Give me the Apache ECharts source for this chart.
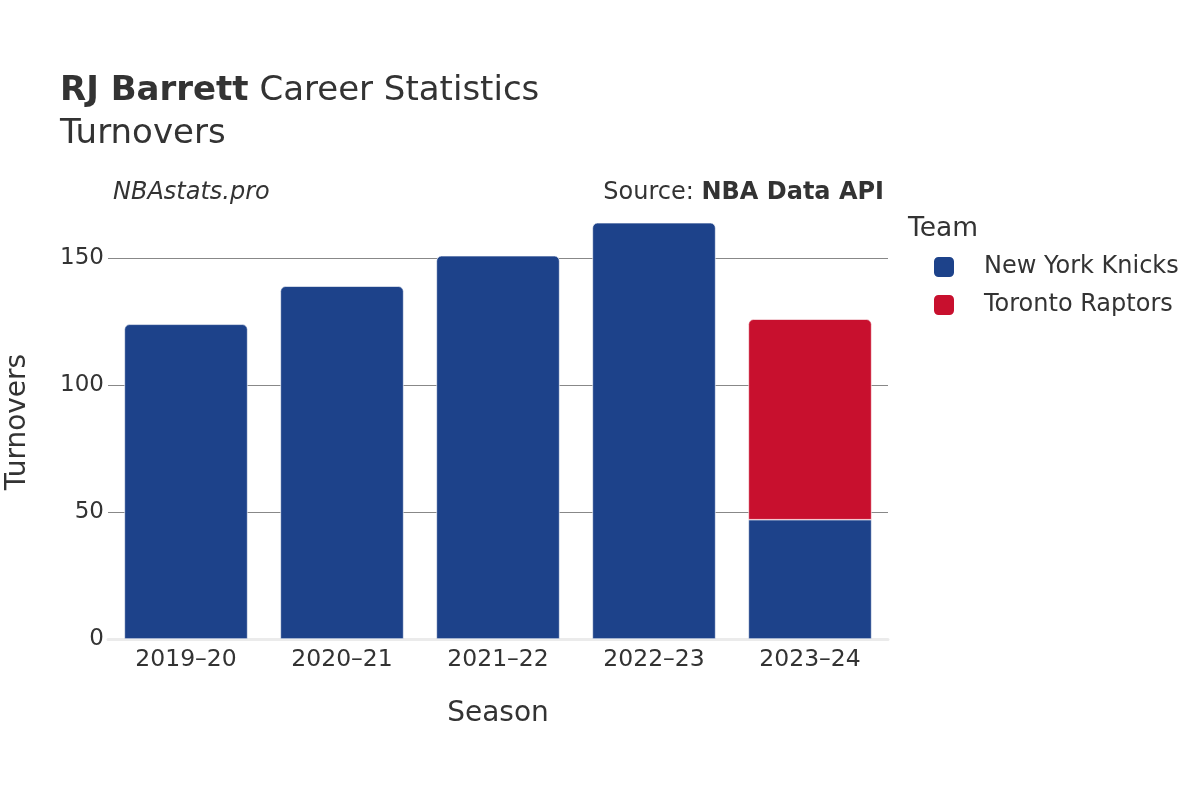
<!DOCTYPE html>
<html>
<head>
<meta charset="utf-8">
<script src="https://cdn.jsdelivr.net/npm/echarts@6/dist/echarts.min.js"></script>
<style>html,body{margin:0;padding:0;background:#fff}#c{width:1200px;height:800px}</style>
</head>
<body>
<div id="c"></div>
<script>
const seasons = ['2019–20', '2020–21', '2021–22', '2022–23', '2023–24'];
const knicks = [124, 139, 151, 164, 47];
const raptors = [null, null, null, null, 79];
const yTicks = [0, 50, 100, 150];
const teamNames = ['New York Knicks', 'Toronto Raptors'];
const teamColors = ['#1D428A', '#C8102E'];

const FONT = 'DejaVu Sans';
const chart = echarts.init(document.getElementById('c'));

const knicksData = knicks.map((v, i) => ({
  value: v,
  itemStyle: { borderRadius: raptors[i] == null ? [5, 5, 0, 0] : 0 }
}));
const raptorsData = raptors.map(v => ({ value: v, itemStyle: { borderRadius: [5, 5, 0, 0] } }));

chart.setOption({
  animation: false,
  textStyle: { fontFamily: FONT },
  title: [
    { text: '{b|RJ Barrett} Career Statistics', left: 60, top: 74, padding: 0,
      textStyle: { fontFamily: FONT, fontSize: 34, fontWeight: 'normal', color: '#333',
        rich: { b: { fontFamily: FONT, fontSize: 34, fontWeight: 'bold', color: '#333' } } } },
    { text: 'Turnovers', left: 60, top: 117, padding: 0,
      textStyle: { fontFamily: FONT, fontSize: 34, fontWeight: 'normal', color: '#333' } },
    { text: 'NBAstats.pro', left: 113, top: 181, padding: 0,
      textStyle: { fontFamily: FONT, fontSize: 24, fontStyle: 'italic', fontWeight: 'normal', color: '#333' } },
    { text: 'Source: {b|NBA Data API}', right: 316, top: 181, padding: 0,
      textStyle: { fontFamily: FONT, fontSize: 24, fontWeight: 'normal', color: '#333',
        rich: { b: { fontFamily: FONT, fontSize: 24, fontWeight: 'bold', color: '#333' } } } },
    { text: 'Team', left: 908, top: 216, padding: 0,
      textStyle: { fontFamily: FONT, fontSize: 26.5, fontWeight: 'normal', color: '#333' } }
  ],
  legend: {
    orient: 'vertical', left: 932, top: 255, padding: 0,
    itemWidth: 22, itemHeight: 22, itemGap: 14,
    icon: 'roundRect',
    data: teamNames,
    textStyle: { fontFamily: FONT, fontSize: 24, color: '#333', padding: [0, 0, 0, 24] }
  },
  grid: { left: 108, right: 312, top: 205, bottom: 161, outerBoundsMode: 'none', containLabel: false },
  xAxis: {
    type: 'category', data: seasons,
    name: 'Season', nameLocation: 'middle', nameGap: 61,
    nameTextStyle: { fontFamily: FONT, fontSize: 28, color: '#333' },
    axisLine: { show: true, lineStyle: { color: '#ebebeb', width: 3 } },
    axisTick: { show: false },
    axisLabel: { fontFamily: FONT, fontSize: 23.5, color: '#333', margin: 9 }
  },
  yAxis: {
    type: 'value', min: 0, max: 171, interval: 50,
    name: 'Turnovers', nameLocation: 'middle', nameGap: 76,
    nameTextStyle: { fontFamily: FONT, fontSize: 28, color: '#333' },
    axisLine: { show: false }, axisTick: { show: false },
    axisLabel: { fontFamily: FONT, fontSize: 23, color: '#333', margin: 4, showMaxLabel: false,
      formatter: v => (yTicks.indexOf(v) >= 0 ? String(v) : '') },
    splitLine: { show: true, showMinLine: false, showMaxLine: false, lineStyle: { color: '#888', width: 1 } }
  },
  series: [
    { name: teamNames[0], type: 'bar', stack: 't', data: knicksData, barWidth: '79%',
      itemStyle: { color: teamColors[0], borderColor: '#fff', borderWidth: 0.6 } },
    { name: teamNames[1], type: 'bar', stack: 't', data: raptorsData, barWidth: '79%',
      itemStyle: { color: teamColors[1], borderColor: '#fff', borderWidth: 0.6 } }
  ]
});
</script>
</body>
</html>
